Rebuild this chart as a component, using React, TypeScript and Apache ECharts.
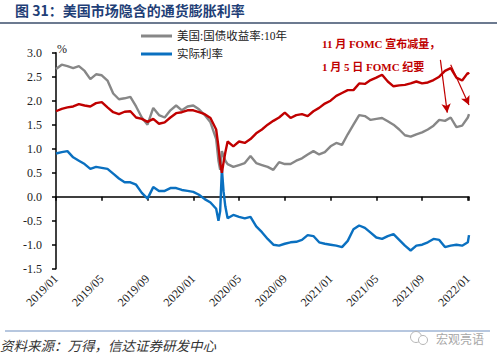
import React, { useEffect, useRef } from "react";
import * as echarts from "echarts";

// month index from 2019/01 (0) to 2022/01 (36)
const months = [
  0, 0.5, 1, 1.5, 2, 2.5, 3, 3.5, 4, 4.5, 5, 5.5, 6, 6.5, 7, 7.5, 8, 8.5, 9, 9.5,
  10, 10.5, 11, 11.5, 12, 12.5, 13, 13.5, 14, 14.2, 14.35, 14.5, 14.65, 14.8, 15, 15.5,
  16, 16.5, 17, 17.5, 18, 18.5, 19, 19.5, 20, 20.5, 21, 21.5, 22, 22.5, 23, 23.5,
  24, 24.5, 25, 25.5, 26, 26.5, 27, 27.5, 28, 28.5, 29, 29.5, 30, 30.5, 31, 31.5,
  32, 32.5, 33, 33.5, 34, 34.5, 35, 35.5, 36, 36.1,
];

const yield10 = [
  2.66, 2.75, 2.72, 2.68, 2.72, 2.62, 2.45, 2.55, 2.53, 2.42, 2.15, 2.03, 2.05, 2.08, 1.88, 1.65, 1.5, 1.85, 1.7, 1.65,
  1.8, 1.9, 1.8, 1.88, 1.9, 1.82, 1.7, 1.55, 1.2, 0.75, 0.56, 0.95, 0.85, 0.75, 0.68, 0.62,
  0.66, 0.7, 0.85, 0.7, 0.66, 0.62, 0.56, 0.72, 0.68, 0.68, 0.75, 0.8, 0.88, 0.95, 0.88, 0.93,
  1.05, 1.12, 1.08, 1.3, 1.5, 1.7, 1.68, 1.6, 1.62, 1.64, 1.57, 1.5, 1.4, 1.28, 1.25, 1.3,
  1.34, 1.4, 1.48, 1.6, 1.58, 1.65, 1.45, 1.48, 1.65, 1.72,
];

const breakeven = [
  1.78, 1.83, 1.86, 1.88, 1.93, 1.9, 1.88, 1.95, 1.97, 1.86, 1.76, 1.72, 1.77, 1.78, 1.65, 1.62, 1.56, 1.62, 1.52, 1.55,
  1.65, 1.74, 1.76, 1.8, 1.8, 1.76, 1.72, 1.64, 1.4, 1.04, 0.7, 0.5, 0.72, 0.92, 1.15, 1.05,
  1.15, 1.12, 1.2, 1.32, 1.4, 1.5, 1.58, 1.65, 1.75, 1.64, 1.7, 1.72, 1.68, 1.78, 1.85, 1.94,
  2.0, 2.1, 2.16, 2.22, 2.22, 2.36, 2.35, 2.43, 2.48, 2.54, 2.4, 2.3, 2.32, 2.33, 2.36, 2.4,
  2.36, 2.38, 2.43, 2.5, 2.62, 2.68, 2.48, 2.42, 2.58, 2.55,
];

const realRate = [
  0.9, 0.93, 0.95, 0.82, 0.75, 0.68, 0.58, 0.62, 0.6, 0.58, 0.48, 0.38, 0.3, 0.3, 0.25, 0.08, -0.04, 0.2, 0.12, 0.12,
  0.18, 0.18, 0.14, 0.12, 0.1, 0.04, -0.05, -0.12, -0.25, -0.5, -0.3, 0.58, 0.1, -0.2, -0.45, -0.38,
  -0.42, -0.45, -0.42, -0.62, -0.74, -0.88, -1.0, -1.02, -0.98, -0.95, -0.94, -0.9, -0.8, -0.82, -0.95, -0.98,
  -1.0, -1.02, -1.05, -0.92, -0.68, -0.6, -0.65, -0.75, -0.85, -0.88, -0.82, -0.78, -0.9, -1.02, -1.12, -1.02,
  -1.0, -0.95, -0.88, -0.9, -1.05, -1.02, -1.0, -1.02, -0.95, -0.8,
];

const xTickLabels = [
  "2019/01", "2019/05", "2019/09", "2020/01", "2020/05",
  "2020/09", "2021/01", "2021/05", "2021/09", "2022/01",
];

const seriesNames = ["美国:国债收益率:10年", "实际利率", "通胀预期"];

const SERIF = "'Liberation Serif', 'Noto Sans CJK SC', serif";

export default function App() {
  const ref = useRef<HTMLDivElement>(null);

  useEffect(() => {
    document.body.style.margin = "0";
    if (!ref.current) return;
    const chart = echarts.init(ref.current, undefined, { renderer: "svg" });
    const toPts = (arr: number[]) => months.map((m, i) => [m, arr[i]]);

    const option: any = {
      animation: false,
      backgroundColor: "#ffffff",
      grid: { left: 56, right: 31, top: 52.7, bottom: 93.3, containLabel: false },
      legend: {
        data: [seriesNames[0], seriesNames[1]],
        orient: "vertical",
        left: 141,
        top: 29,
        padding: 0,
        itemWidth: 31,
        itemHeight: 3,
        itemGap: 4,
        icon: "rect",
        textStyle: { fontSize: 11.5, color: "#222", fontFamily: SERIF, lineHeight: 14 },
      },
      xAxis: [
        {
          type: "value",
          min: 0,
          max: 36.1,
          interval: 4,
          axisLine: { onZero: true, lineStyle: { color: "#000", width: 1.5 } },
          axisTick: { show: true, length: 4, lineStyle: { color: "#000", width: 1.5 } },
          axisLabel: { show: false },
          splitLine: { show: false },
        },
        {
          type: "value",
          min: 0,
          max: 36.1,
          interval: 4,
          position: "bottom",
          axisLine: { show: false },
          axisTick: { show: false },
          splitLine: { show: false },
          axisLabel: {
            rotate: 45,
            margin: 8,
            fontSize: 12,
            color: "#222",
            fontFamily: SERIF,
            formatter: (v: number) => {
              const idx = v / 4;
              return Number.isInteger(idx) && xTickLabels[idx] ? xTickLabels[idx] : "";
            },
          },
        },
      ],
      yAxis: {
        type: "value",
        min: -1.5,
        max: 3,
        interval: 0.5,
        axisLine: { show: true, onZero: false, lineStyle: { color: "#000", width: 1.5 } },
        axisTick: { show: true, length: 4, lineStyle: { color: "#000", width: 1.5 } },
        splitLine: { show: false },
        axisLabel: {
          margin: 14,
          fontSize: 12,
          color: "#222",
          fontFamily: SERIF,
          formatter: (v: number) => v.toFixed(1),
        },
      },
      series: [
        {
          name: seriesNames[0],
          type: "line",
          xAxisIndex: 0,
          data: toPts(yield10),
          showSymbol: false,
          color: "#878787",
          lineStyle: { width: 2.4, color: "#878787" },
        },
        {
          name: seriesNames[1],
          type: "line",
          xAxisIndex: 0,
          data: toPts(realRate),
          showSymbol: false,
          color: "#0a70c0",
          lineStyle: { width: 2.4, color: "#0a70c0" },
        },
        {
          name: seriesNames[2],
          type: "line",
          xAxisIndex: 0,
          data: toPts(breakeven),
          showSymbol: false,
          color: "#c00000",
          lineStyle: { width: 2.4, color: "#c00000" },
          markLine: {
            silent: true,
            symbol: ["none", "arrow"],
            symbolSize: [7, 9],
            label: { show: false },
            lineStyle: { color: "#c00000", width: 1.2, type: "solid" },
            data: [
              [{ coord: [33.6, 2.85] }, { coord: [34.2, 1.75] }],
              [{ coord: [34.5, 2.75] }, { coord: [36.1, 1.91] }],
            ],
          },
        },
      ],
      graphic: [
        {
          type: "text",
          x: 15,
          y: 10,
          style: {
            text: "图 31：美国市场隐含的通货膨胀利率",
            fontSize: 14,
            fontWeight: "bold",
            fill: "#1f3f77",
            fontFamily: "'Noto Sans CJK SC', sans-serif",
            verticalAlign: "middle",
          },
        },
        {
          type: "line",
          shape: { x1: 0, y1: 23, x2: 497, y2: 23 },
          style: { stroke: "#3b4e6b", lineWidth: 1.6 },
        },
        {
          type: "text",
          x: 57,
          y: 49,
          style: { text: "%", fontSize: 12, fill: "#222", fontFamily: SERIF, verticalAlign: "middle" },
        },
        {
          type: "text",
          x: 322,
          y: 44,
          style: {
            text: "11 月 FOMC 宣布减量，",
            fontSize: 11,
            fontWeight: "bold",
            fill: "#c00000",
            fontFamily: SERIF,
            verticalAlign: "middle",
          },
        },
        {
          type: "text",
          x: 322,
          y: 67,
          style: {
            text: "1 月 5 日 FOMC 纪要",
            fontSize: 11,
            fontWeight: "bold",
            fill: "#c00000",
            fontFamily: SERIF,
            verticalAlign: "middle",
          },
        },
        {
          type: "line",
          shape: { x1: 5, y1: 331, x2: 490, y2: 331 },
          style: { stroke: "#6f8fbf", lineWidth: 1 },
        },
        {
          type: "text",
          x: 0,
          y: 345,
          style: {
            text: "资料来源：万得，信达证券研发中心",
            fontSize: 13.5,
            fontStyle: "italic",
            fill: "#333",
            fontFamily: "'Noto Sans CJK SC', sans-serif",
            verticalAlign: "middle",
          },
        },
        {
          type: "circle",
          shape: { cx: 416, cy: 337, r: 5.5 },
          style: { fill: "none", stroke: "#b5b5b5", lineWidth: 1 },
        },
        {
          type: "circle",
          shape: { cx: 423, cy: 340, r: 4.5 },
          style: { fill: "#fff", stroke: "#b5b5b5", lineWidth: 1 },
        },
        {
          type: "text",
          x: 436,
          y: 338,
          style: {
            text: "宏观亮语",
            fontSize: 12,
            fill: "#a8a8a8",
            fontFamily: "'Noto Sans CJK SC', sans-serif",
            verticalAlign: "middle",
          },
        },
      ],
    };

    chart.setOption(option);
    return () => chart.dispose();
  }, []);

  return (
    <div
      ref={ref}
      style={{ position: "fixed", left: 0, top: 0, width: 500, height: 362, background: "#fff" }}
    />
  );
}
